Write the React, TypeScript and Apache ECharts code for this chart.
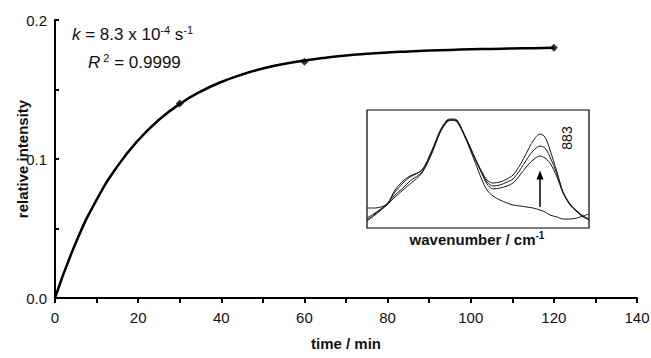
import React, { useEffect, useRef } from "react";
import * as echarts from "echarts";

// Main kinetic plot
const fitTime = [0, 5, 10, 15, 20, 25, 30, 35, 40, 45, 50, 55, 60, 65, 70, 75, 80, 85, 90, 95, 100, 105, 110, 115, 120];
const fitIntensity = [0, 0.0397, 0.0706, 0.0947, 0.1135, 0.1282, 0.1396, 0.1485, 0.1554, 0.1608, 0.1651, 0.1684, 0.1709, 0.1729, 0.1745, 0.1757, 0.1767, 0.1774, 0.178, 0.1785, 0.1789, 0.1792, 0.1795, 0.1797, 0.18];
const measTime = [30, 60, 120];
const measIntensity = [0.14, 0.17, 0.18];
const yTicks = [0, 0.1, 0.2];

// Inset spectra (arbitrary units)
const insetX = [0, 8, 20, 28, 36, 43, 55, 65, 73, 80, 85, 90, 98, 108, 115, 120, 126, 133, 140, 146, 153, 160, 166, 173, 178, 183, 190, 196, 203, 210, 216, 222];
const spectrumA = [8, 14, 24, 33, 40, 47, 56, 76, 96, 107, 108, 107, 92, 70, 56, 48, 45, 46, 49, 53, 63, 76, 87, 94, 91, 78, 56, 36, 24, 17, 12, 9];
const spectrumB = [10, 15, 24, 36, 45, 51, 58, 77, 97, 107, 108, 106, 91, 69, 55, 46, 42, 43, 46, 49, 58, 69, 77, 82, 80, 71, 54, 36, 24, 16, 12, 9];
const spectrumC = [7, 13, 23, 31, 38, 44, 55, 75, 95, 106, 108, 107, 92, 70, 54, 44, 39, 40, 42, 45, 53, 62, 68, 72, 70, 65, 51, 35, 23, 16, 11, 8];
const spectrumD = [20, 20, 24, 38, 47, 52, 58, 78, 97, 108, 109, 108, 91, 66, 48, 38, 32, 28, 25, 23, 22, 21, 20, 18, 16, 13, 11, 9, 9, 10, 12, 14];
const arrowX = 173;
const arrowFrom = 21;
const arrowTo = 53;

const FONT = "Liberation Sans, Arial, sans-serif";

export default function App() {
  const ref = useRef<HTMLDivElement>(null);
  useEffect(() => {
    if (!ref.current) return;
    const chart = echarts.init(ref.current, null, { renderer: "svg" });
    const zip = (xs: number[], ys: number[]) => xs.map((x, i) => [x, ys[i]]);
    const insetSeries = [spectrumA, spectrumB, spectrumC, spectrumD].map((s, idx) => ({
      type: "line",
      xAxisIndex: 1,
      yAxisIndex: 1,
      data: zip(insetX, s),
      smooth: 0.3,
      showSymbol: false,
      symbol: "none",
      lineStyle: { color: "#1a1a1a", width: 1 },
      markLine:
        idx === 3
          ? {
              silent: true,
              symbol: ["none", "triangle"],
              symbolSize: [7, 9],
              label: { show: false },
              lineStyle: { color: "#000", width: 1.5, type: "solid" },
              data: [[{ coord: [arrowX, arrowFrom] }, { coord: [arrowX, arrowTo] }]],
            }
          : undefined,
    }));
    chart.setOption({
      animation: false,
      backgroundColor: "#fff",
      textStyle: { fontFamily: FONT },
      grid: [
        { left: 55, right: 14, top: 20, bottom: 60, outerBoundsMode: "none", containLabel: false },
        { left: 367, top: 110, width: 222, height: 118, show: true, borderColor: "#000", borderWidth: 1.2, backgroundColor: "transparent", outerBoundsMode: "none", containLabel: false },
      ],
      xAxis: [
        {
          type: "value",
          gridIndex: 0,
          min: 0,
          max: 140,
          interval: 20,
          axisLine: { show: true, lineStyle: { color: "#000", width: 2 } },
          axisTick: { show: true, length: 5, lineStyle: { color: "#000", width: 2 } },
          minorTick: { show: true, splitNumber: 2, length: 5, lineStyle: { color: "#000", width: 2 } },
          splitLine: { show: false },
          axisLabel: { fontSize: 15, color: "#111", margin: 12, fontFamily: FONT },
          name: "time / min",
          nameLocation: "middle",
          nameGap: 38,
          nameMoveOverlap: false,
          nameTextStyle: { fontSize: 15, fontWeight: "bold", color: "#111", fontFamily: FONT },
        },
        {
          type: "value",
          gridIndex: 1,
          min: 0,
          max: 222,
          show: false,
        },
      ],
      yAxis: [
        {
          type: "value",
          gridIndex: 0,
          min: 0,
          max: 0.2,
          interval: 0.1,
          axisLine: { show: true, lineStyle: { color: "#000", width: 2 } },
          axisTick: { show: true, inside: true, length: 4, lineStyle: { color: "#000", width: 2 } },
          minorTick: { show: true, splitNumber: 2, length: 4, lineStyle: { color: "#000", width: 2 } },
          splitLine: { show: false },
          axisLabel: {
            fontSize: 15,
            color: "#111",
            margin: 8,
            fontFamily: FONT,
            formatter: (v: number) => (yTicks.some((t) => Math.abs(t - v) < 1e-9) ? v.toFixed(1) : ""),
          },
          name: "relative intensity",
          nameLocation: "middle",
          nameGap: 25,
          nameMoveOverlap: false,
          nameTextStyle: { fontSize: 15, fontWeight: "bold", color: "#111", fontFamily: FONT },
        },
        { type: "value", gridIndex: 1, min: 0, max: 118, show: false },
      ],
      series: [
        {
          type: "line",
          data: zip(fitTime, fitIntensity),
          smooth: 0.5,
          showSymbol: false,
          symbol: "none",
          lineStyle: { color: "#000", width: 2.5 },
        },
        {
          type: "scatter",
          data: zip(measTime, measIntensity),
          symbol: "diamond",
          symbolSize: 8,
          itemStyle: { color: "#000" },
        },
        ...insetSeries,
      ],
      graphic: [
        {
          type: "text",
          left: 72,
          top: 24,
          style: {
            text: "{i|k} = 8.3 x 10{sup|-4} s{sup|-1}",
            fontSize: 17,
            fontFamily: FONT,
            fill: "#111",
            lineHeight: 20,
            rich: {
              i: { fontStyle: "italic", fontSize: 17, fontFamily: FONT, lineHeight: 20 },
              sup: { fontSize: 11, fontFamily: FONT, verticalAlign: "top", lineHeight: 20 },
            },
          },
        },
        {
          type: "text",
          left: 88,
          top: 52,
          style: {
            text: "{i|R}{sup| 2} = 0.9999",
            fontSize: 17,
            fontFamily: FONT,
            fill: "#111",
            lineHeight: 20,
            rich: {
              i: { fontStyle: "italic", fontSize: 17, fontFamily: FONT, lineHeight: 20 },
              sup: { fontSize: 11, fontFamily: FONT, verticalAlign: "top", lineHeight: 20 },
            },
          },
        },
        {
          type: "text",
          x: 567,
          y: 138,
          rotation: Math.PI / 2,
          style: { text: "883", fontSize: 14, fontFamily: FONT, fill: "#111", align: "center", verticalAlign: "middle" },
        },
        {
          type: "text",
          x: 477,
          y: 239,
          style: {
            text: "wavenumber / cm{sup|-1}",
            fontSize: 15,
            fontWeight: "bold",
            fontFamily: FONT,
            fill: "#111",
            align: "center",
            verticalAlign: "middle",
            lineHeight: 18,
            rich: {
              sup: { fontSize: 10, fontWeight: "bold", fontFamily: FONT, verticalAlign: "top", lineHeight: 18 },
            },
          },
        },
      ],
    });
    return () => chart.dispose();
  }, []);
  return <div ref={ref} style={{ width: 651, height: 358, position: "absolute", left: 0, top: 0 }} />;
}
